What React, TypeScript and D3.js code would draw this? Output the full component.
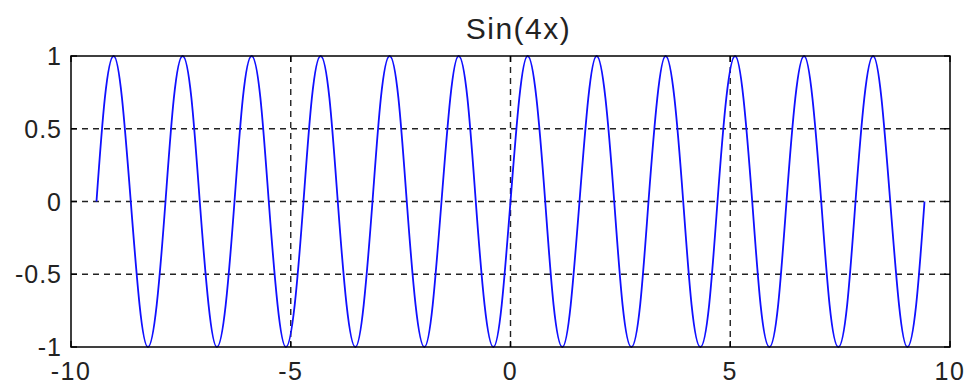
import React from "react";
import * as d3 from "d3";

const title = "Sin(4x)";
const xTicks = [-10, -5, 0, 5, 10];
const yTicks = [-1, -0.5, 0, 0.5, 1];
const yTickLabels = ["-1", "-0.5", "0", "0.5", "1"];

const xValues = [
  -9.42, -9.23, -9.03, -8.84, -8.64, -8.44, -8.25, -8.05,
  -7.85, -7.66, -7.46, -7.26, -7.07, -6.87, -6.68, -6.48,
  -6.28, -6.09, -5.89, -5.69, -5.5, -5.3, -5.11, -4.91,
  -4.71, -4.52, -4.32, -4.12, -3.93, -3.73, -3.53, -3.34,
  -3.14, -2.95, -2.75, -2.55, -2.36, -2.16, -1.96, -1.77,
  -1.57, -1.37, -1.18, -0.98, -0.79, -0.59, -0.39, -0.2,
  0, 0.2, 0.39, 0.59, 0.79, 0.98, 1.18, 1.37,
  1.57, 1.77, 1.96, 2.16, 2.36, 2.55, 2.75, 2.95,
  3.14, 3.34, 3.53, 3.73, 3.93, 4.12, 4.32, 4.52,
  4.71, 4.91, 5.11, 5.3, 5.5, 5.69, 5.89, 6.09,
  6.28, 6.48, 6.68, 6.87, 7.07, 7.26, 7.46, 7.66,
  7.85, 8.05, 8.25, 8.44, 8.64, 8.84, 9.03, 9.23,
  9.42,
];

const yValues = [
  0, 0.71, 1, 0.71, 0, -0.71, -1, -0.71,
  0, 0.71, 1, 0.71, 0, -0.71, -1, -0.71,
  0, 0.71, 1, 0.71, 0, -0.71, -1, -0.71,
  0, 0.71, 1, 0.71, 0, -0.71, -1, -0.71,
  0, 0.71, 1, 0.71, 0, -0.71, -1, -0.71,
  0, 0.71, 1, 0.71, 0, -0.71, -1, -0.71,
  0, 0.71, 1, 0.71, 0, -0.71, -1, -0.71,
  0, 0.71, 1, 0.71, 0, -0.71, -1, -0.71,
  0, 0.71, 1, 0.71, 0, -0.71, -1, -0.71,
  0, 0.71, 1, 0.71, 0, -0.71, -1, -0.71,
  0, 0.71, 1, 0.71, 0, -0.71, -1, -0.71,
  0, 0.71, 1, 0.71, 0, -0.71, -1, -0.71,
  0,
];

const W = 971;
const H = 387;
const M = { left: 71, right: 21, top: 56, bottom: 40 };

export default function App() {
  const x = d3.scaleLinear().domain([-10, 10]).range([M.left, W - M.right]);
  const y = d3.scaleLinear().domain([-1, 1]).range([H - M.bottom, M.top]);
  const pts: [number, number][] = xValues.map((v, i) => [v, yValues[i]]);
  const line = d3
    .line<[number, number]>()
    .x((d) => x(d[0]))
    .y((d) => y(d[1]))
    .curve(d3.curveNatural);
  const x0 = x(-10), x1 = x(10), y0 = y(-1), y1 = y(1);
  const tick = 6;
  const font = "'Liberation Sans', Arial, sans-serif";
  return (
    <svg
      width={W}
      height={H}
      style={{ position: "absolute", left: 0, top: 0, background: "#fff" }}
    >
      <defs>
        <clipPath id="plot">
          <rect x={x0} y={y1 - 1} width={x1 - x0} height={y0 - y1 + 2} />
        </clipPath>
      </defs>
      {xTicks.slice(1, -1).map((t) => (
        <line key={"gx" + t} x1={x(t)} x2={x(t)} y1={y1} y2={y0}
          stroke="#222" strokeWidth={1.4} strokeDasharray="6,5" />
      ))}
      {yTicks.slice(1, -1).map((t) => (
        <line key={"gy" + t} x1={x0} x2={x1} y1={y(t)} y2={y(t)}
          stroke="#222" strokeWidth={1.4} strokeDasharray="6,5" />
      ))}
      {xTicks.map((t) => (
        <g key={"tx" + t}>
          <line x1={x(t)} x2={x(t)} y1={y0} y2={y0 - tick} stroke="#000" strokeWidth={1.4} />
          <line x1={x(t)} x2={x(t)} y1={y1} y2={y1 + tick} stroke="#000" strokeWidth={1.4} />
        </g>
      ))}
      {yTicks.map((t) => (
        <g key={"ty" + t}>
          <line x1={x0} x2={x0 + tick} y1={y(t)} y2={y(t)} stroke="#000" strokeWidth={1.4} />
          <line x1={x1} x2={x1 - tick} y1={y(t)} y2={y(t)} stroke="#000" strokeWidth={1.4} />
        </g>
      ))}
      <path d={line(pts) || ""} fill="none" stroke="#1010ff" strokeWidth={1.8}
        clipPath="url(#plot)" />
      <rect x={x0} y={y1} width={x1 - x0} height={y0 - y1} fill="none"
        stroke="#000" strokeWidth={1.5} />
      {xTicks.map((t) => (
        <text key={"lx" + t} x={x(t)} y={380} textAnchor="middle"
          fontFamily={font} fontSize={25} fill="#222" letterSpacing={1.5}>
          {String(t)}
        </text>
      ))}
      {yTicks.map((t, i) => (
        <text key={"ly" + t} x={62} y={y(t) + 9} textAnchor="end"
          fontFamily={font} fontSize={25} fill="#222" letterSpacing={1}>
          {yTickLabels[i]}
        </text>
      ))}
      <text x={(x0 + x1) / 2 + 8} y={39} textAnchor="middle" fontFamily={font}
        fontSize={30} fill="#222" letterSpacing={1.5}>
        {title}
      </text>
    </svg>
  );
}
